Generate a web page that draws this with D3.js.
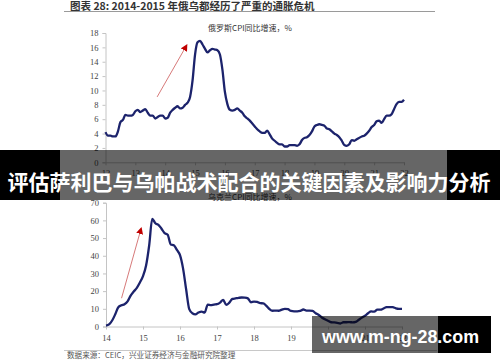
<!DOCTYPE html>
<html lang="zh">
<head>
<meta charset="utf-8">
<title>俄乌CPI</title>
<script src="https://cdn.jsdelivr.net/npm/d3@7"></script>
<style>
  body { margin: 0; background: #fff; }
  svg { display: block; }
</style>
</head>
<body>
<script>
    // Russia CPI y/y, monthly, Jan 2012 .. Jan 2022
    var rusStart = 12;
    var rusCpi = [
        4.2, 3.7, 3.7, 3.6, 3.6, 4.3, 5.6, 5.9, 6.6, 6.5, 6.5, 6.6,
        7.1, 7.3, 7.0, 7.2, 7.4, 6.9, 6.5, 6.5, 6.1, 6.3, 6.5, 6.5,
        6.1, 6.2, 6.9, 7.3, 7.6, 7.8, 7.5, 7.6, 8.0, 8.3, 9.1, 11.4,
        15.0, 16.7, 16.9, 16.4, 15.8, 15.3, 15.6, 15.8, 15.7, 15.6, 15.0, 12.9,
        9.8, 8.1, 7.3, 7.2, 7.3, 7.5, 7.2, 6.9, 6.4, 6.1, 5.8, 5.4,
        5.0, 4.6, 4.3, 4.1, 4.1, 4.4, 3.9, 3.3, 3.0, 2.7, 2.5, 2.5,
        2.2, 2.2, 2.4, 2.4, 2.4, 2.3, 2.5, 3.1, 3.4, 3.5, 3.8, 4.3,
        5.0, 5.2, 5.3, 5.2, 5.1, 4.7, 4.6, 4.3, 4.0, 3.8, 3.5, 3.0,
        2.4, 2.3, 2.5, 3.1, 3.0, 3.2, 3.4, 3.6, 3.7, 4.0, 4.4, 4.9,
        5.2, 5.7, 5.8, 5.5, 6.0, 6.5, 6.5, 6.7, 7.4, 8.1, 8.4, 8.4,
        8.7
    ];
    var rusYears = [12, 13, 14, 15, 16, 17, 18, 19, 20, 21, 22];
    var rusTicks = [0, 2, 4, 6, 8, 10, 12, 14, 16, 18];
    var rusArrow = [[13.73, 9.1], [14.72, 16.3]];

    // Ukraine CPI y/y, monthly, Jan 2014 .. Jan 2022
    var ukrStart = 14;
    var ukrCpi = [
        0.5, 1.2, 3.4, 6.9, 10.9, 12.0, 12.6, 14.2, 17.5, 19.8, 21.8, 24.9,
        28.5, 34.5, 45.8, 60.9, 58.4, 57.5, 55.3, 52.8, 51.9, 46.4, 45.9, 43.3,
        40.3, 32.7, 20.9, 9.8, 7.5, 6.9, 7.9, 8.4, 7.9, 12.4, 12.1, 12.4,
        12.6, 13.5, 15.1, 12.2, 13.5, 15.6, 15.9, 16.2, 16.4, 16.3, 15.9, 13.7,
        14.1, 13.9, 13.2, 13.1, 11.7, 9.9, 8.9, 9.0, 8.9, 9.5, 10.0, 9.8,
        8.8, 8.6, 8.6, 8.8, 9.6, 9.0, 9.0, 8.8, 7.5, 6.5, 5.1, 4.1,
        3.2, 2.4, 2.3, 2.1, 1.7, 2.4, 2.4, 2.5, 2.3, 2.6, 3.8, 5.0,
        6.1, 7.5, 8.5, 8.4, 9.5, 9.5, 10.2, 11.0, 11.0, 10.9, 10.3, 10.0,
        10.0
    ];
    var ukrYears = [14, 15, 16, 17, 18, 19, 20, 21, 22];
    var ukrTicks = [0, 10, 20, 30, 40, 50, 60, 70];
    var ukrArrow = [[14.42, 16], [14.95, 55.5]];

    var width = 500, height = 362;
    var lineColor = '#1c236c';
    var axisColor = '#c4c4c4';
    var serif = '"Liberation Serif", "DejaVu Serif", serif';
    var cjk = '"Noto Sans CJK SC", "Noto Sans", sans-serif';

    var svg = d3.select('body').append('svg')
        .attr('width', width)
        .attr('height', height);

    svg.append('defs').append('marker')
        .attr('id', 'head')
        .attr('viewBox', '0 0 10 10')
        .attr('refX', 8).attr('refY', 5)
        .attr('markerWidth', 7).attr('markerHeight', 7)
        .attr('markerUnits', 'userSpaceOnUse')
        .attr('orient', 'auto')
        .append('path')
        .attr('d', 'M0,0 L10,5 L0,10 z')
        .attr('fill', '#c00000');

    // page title
    svg.append('text')
        .attr('x', 70).attr('y', 9.5)
        .attr('font-family', cjk)
        .attr('font-weight', 'bold')
        .attr('font-size', '10.5px')
        .attr('fill', '#333')
        .text('图表 28:  2014-2015 年俄乌都经历了严重的通胀危机');

    svg.append('line')
        .attr('x1', 64).attr('x2', 435)
        .attr('y1', 11.5).attr('y2', 11.5)
        .attr('stroke', '#9a9a9a');

    function drawPanel(cfg) {
        var x = d3.scaleLinear().domain(cfg.xDomain).range(cfg.xRange);
        var y = d3.scaleLinear().domain(cfg.yDomain).range(cfg.yRange);
        var g = svg.append('g');

        g.append('text')
            .attr('x', 250).attr('y', cfg.titleY)
            .attr('text-anchor', 'middle')
            .attr('font-family', cjk)
            .attr('font-size', '8px')
            .attr('fill', '#333')
            .text(cfg.title);

        var yAxis = g.append('g')
            .attr('transform', 'translate(' + cfg.xRange[0] + ',0)')
            .call(d3.axisLeft(y).tickValues(cfg.yTicks).tickSize(3).tickPadding(4));

        var xAxis = g.append('g')
            .attr('transform', 'translate(0,' + cfg.yRange[0] + ')')
            .call(d3.axisBottom(x).tickValues(cfg.years).tickFormat(d3.format('d'))
                .tickSize(3).tickPadding(5).tickSizeOuter(0));

        g.selectAll('.domain, .tick line').attr('stroke', axisColor);
        g.selectAll('.tick text')
            .attr('font-family', serif)
            .attr('font-size', '8.5px')
            .attr('fill', '#444');

        var line = d3.line()
            .x(function(d, i) { return x(cfg.start + i / 12); })
            .y(function(d) { return y(d); })
            .curve(d3.curveMonotoneX);

        g.append('path')
            .datum(cfg.values)
            .attr('d', line)
            .attr('fill', 'none')
            .attr('stroke', lineColor)
            .attr('stroke-width', 2.3)
            .attr('stroke-linejoin', 'round');

        g.append('line')
            .attr('x1', x(cfg.arrow[0][0])).attr('y1', y(cfg.arrow[0][1]))
            .attr('x2', x(cfg.arrow[1][0])).attr('y2', y(cfg.arrow[1][1]))
            .attr('stroke', '#d77a7a')
            .attr('stroke-width', 1)
            .attr('marker-end', 'url(#head)');
    }

    drawPanel({
        title: '俄罗斯CPI同比增速，%',
        titleY: 31,
        values: rusCpi, start: rusStart,
        years: rusYears, yTicks: rusTicks,
        xDomain: [12, 22], xRange: [105.5, 404],
        yDomain: [0, 18], yRange: [162.3, 33],
        arrow: rusArrow
    });

    drawPanel({
        title: '乌克兰CPI同比增速，%',
        titleY: 200,
        values: ukrCpi, start: ukrStart,
        years: ukrYears, yTicks: ukrTicks,
        xDomain: [14, 22], xRange: [106, 402],
        yDomain: [0, 70], yRange: [326.5, 202.7],
        arrow: ukrArrow
    });

    // source line
    svg.append('line')
        .attr('x1', 64).attr('x2', 437)
        .attr('y1', 350.5).attr('y2', 350.5)
        .attr('stroke', '#c8c8c8');

    svg.append('text')
        .attr('x', 67).attr('y', 358)
        .attr('font-family', cjk)
        .attr('font-size', '7.6px')
        .attr('fill', '#555')
        .text('数据来源：CEIC，兴业证券经济与金融研究院整理');

    // overlay banner
    svg.append('rect').attr('x', 0).attr('y', 150).attr('width', 60).attr('height', 50).attr('fill', '#000');
    svg.append('rect').attr('x', 447).attr('y', 150).attr('width', 53).attr('height', 50).attr('fill', '#000');
    svg.append('rect').attr('x', 60).attr('y', 150).attr('width', 387).attr('height', 50)
        .attr('fill', '#000').attr('fill-opacity', 0.6);
    svg.append('text')
        .attr('x', 249).attr('y', 190)
        .attr('text-anchor', 'middle')
        .attr('font-family', cjk)
        .attr('font-weight', 'bold')
        .attr('font-size', '21px')
        .attr('fill', '#fff')
        .text('评估萨利巴与乌帕战术配合的关键因素及影响力分析');

    // watermark
    svg.append('rect').attr('x', 312).attr('y', 316).attr('width', 126).attr('height', 37)
        .attr('fill', '#000').attr('fill-opacity', 0.6);
    svg.append('rect').attr('x', 438).attr('y', 316).attr('width', 53).attr('height', 37).attr('fill', '#000');
    svg.append('text')
        .attr('x', 322).attr('y', 343)
        .attr('font-family', '"Liberation Sans", Arial, sans-serif')
        .attr('font-weight', 'bold')
        .attr('font-size', '19px')
        .attr('textLength', 157)
        .attr('lengthAdjust', 'spacingAndGlyphs')
        .attr('fill', '#fff')
        .text('www.m-ng-28.com');
</script>
</body>
</html>
